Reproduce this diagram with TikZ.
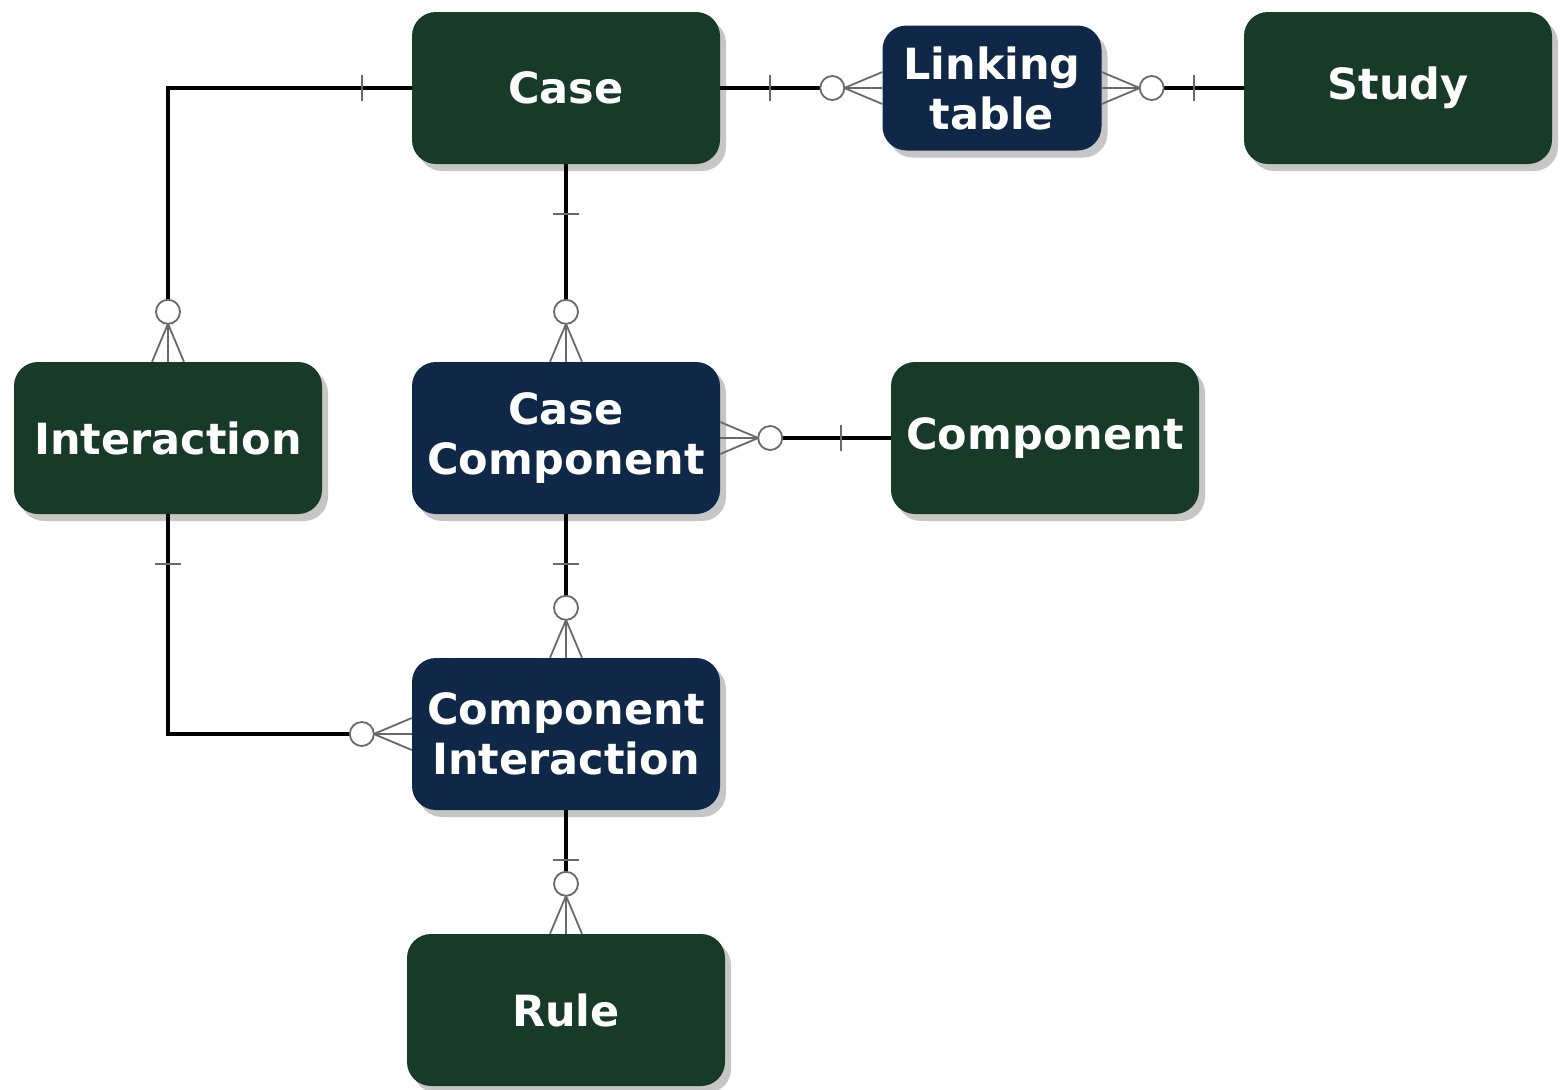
\documentclass[tikz,border=0pt]{standalone}
\usepackage{fontspec}
\setmainfont{DejaVu Sans}
\usetikzlibrary{shadows}
\definecolor{entgreen}{RGB}{24,58,40}
\definecolor{entblue}{RGB}{16,40,72}
\definecolor{markgray}{RGB}{105,105,105}
\tikzset{
  entity/.style={rectangle,rounded corners=24pt,minimum width=308pt,minimum height=152pt,
    inner sep=0pt,text=white,align=center,font=\fontsize{43}{50}\selectfont\bfseries,
    drop shadow={shadow xshift=6pt,shadow yshift=-7pt,opacity=0.45}},
  strong/.style={entity,fill=entgreen},
  link/.style={entity,fill=entblue},
  rel/.style={line width=4.5pt,black},
  manyend/.style={rel,shorten >=62pt},
  marks/.style={markgray,line width=1.8pt}
}
\newcommand{\onebar}[2]{%
  \begin{scope}[shift={(#1)},rotate=#2]
  \draw[marks] (50,-13)--(50,13);
  \end{scope}}
\newcommand{\zeromany}[2]{%
  \begin{scope}[shift={(#1)},rotate=#2]
  \draw[marks] (0,-16)--(38,0) (0,0)--(38,0) (0,16)--(38,0);
  \draw[marks,fill=white] (50,0) circle (12pt);
  \end{scope}}

\begin{document}
\begin{tikzpicture}[x=1pt,y=-1pt]

\useasboundingbox (0,0) rectangle (1567,1090);

\node[strong] (case) at (566,88) {Case};
\node[link,minimum width=219pt,minimum height=125pt] (linking) at (992,88) {Linking\\table};
\node[strong] (study) at (1398,88) {Study};

\node[strong] (interaction) at (168,438) {Interaction};
\node[link] (casecomp) at (566,438) {Case\\Component};
\node[strong] (component) at (1045,438) {Component};

\node[link] (compint) at (566,734) {Component\\Interaction};
\node[strong,minimum width=318pt] (rule) at (566,1010) {Rule};

\draw[manyend] (case.west) -| (interaction.north);
\draw[manyend] (case.south) -- (casecomp.north);
\draw[manyend] (case.east) -- (linking.west);
\draw[manyend] (study.west) -- (linking.east);
\draw[manyend] (component.west) -- (casecomp.east);
\draw[manyend] (casecomp.south) -- (compint.north);
\draw[manyend] (interaction.south) |- (compint.west);
\draw[manyend] (compint.south) -- (rule.north);

\onebar{case.west}{180}
\zeromany{interaction.north}{90}
\onebar{case.south}{270}
\zeromany{casecomp.north}{90}
\onebar{case.east}{0}
\zeromany{linking.west}{180}
\onebar{study.west}{180}
\zeromany{linking.east}{0}
\onebar{component.west}{180}
\zeromany{casecomp.east}{0}
\onebar{casecomp.south}{270}
\zeromany{compint.north}{90}
\onebar{interaction.south}{270}
\zeromany{compint.west}{180}
\onebar{compint.south}{270}
\zeromany{rule.north}{90}

\end{tikzpicture}
\end{document}
